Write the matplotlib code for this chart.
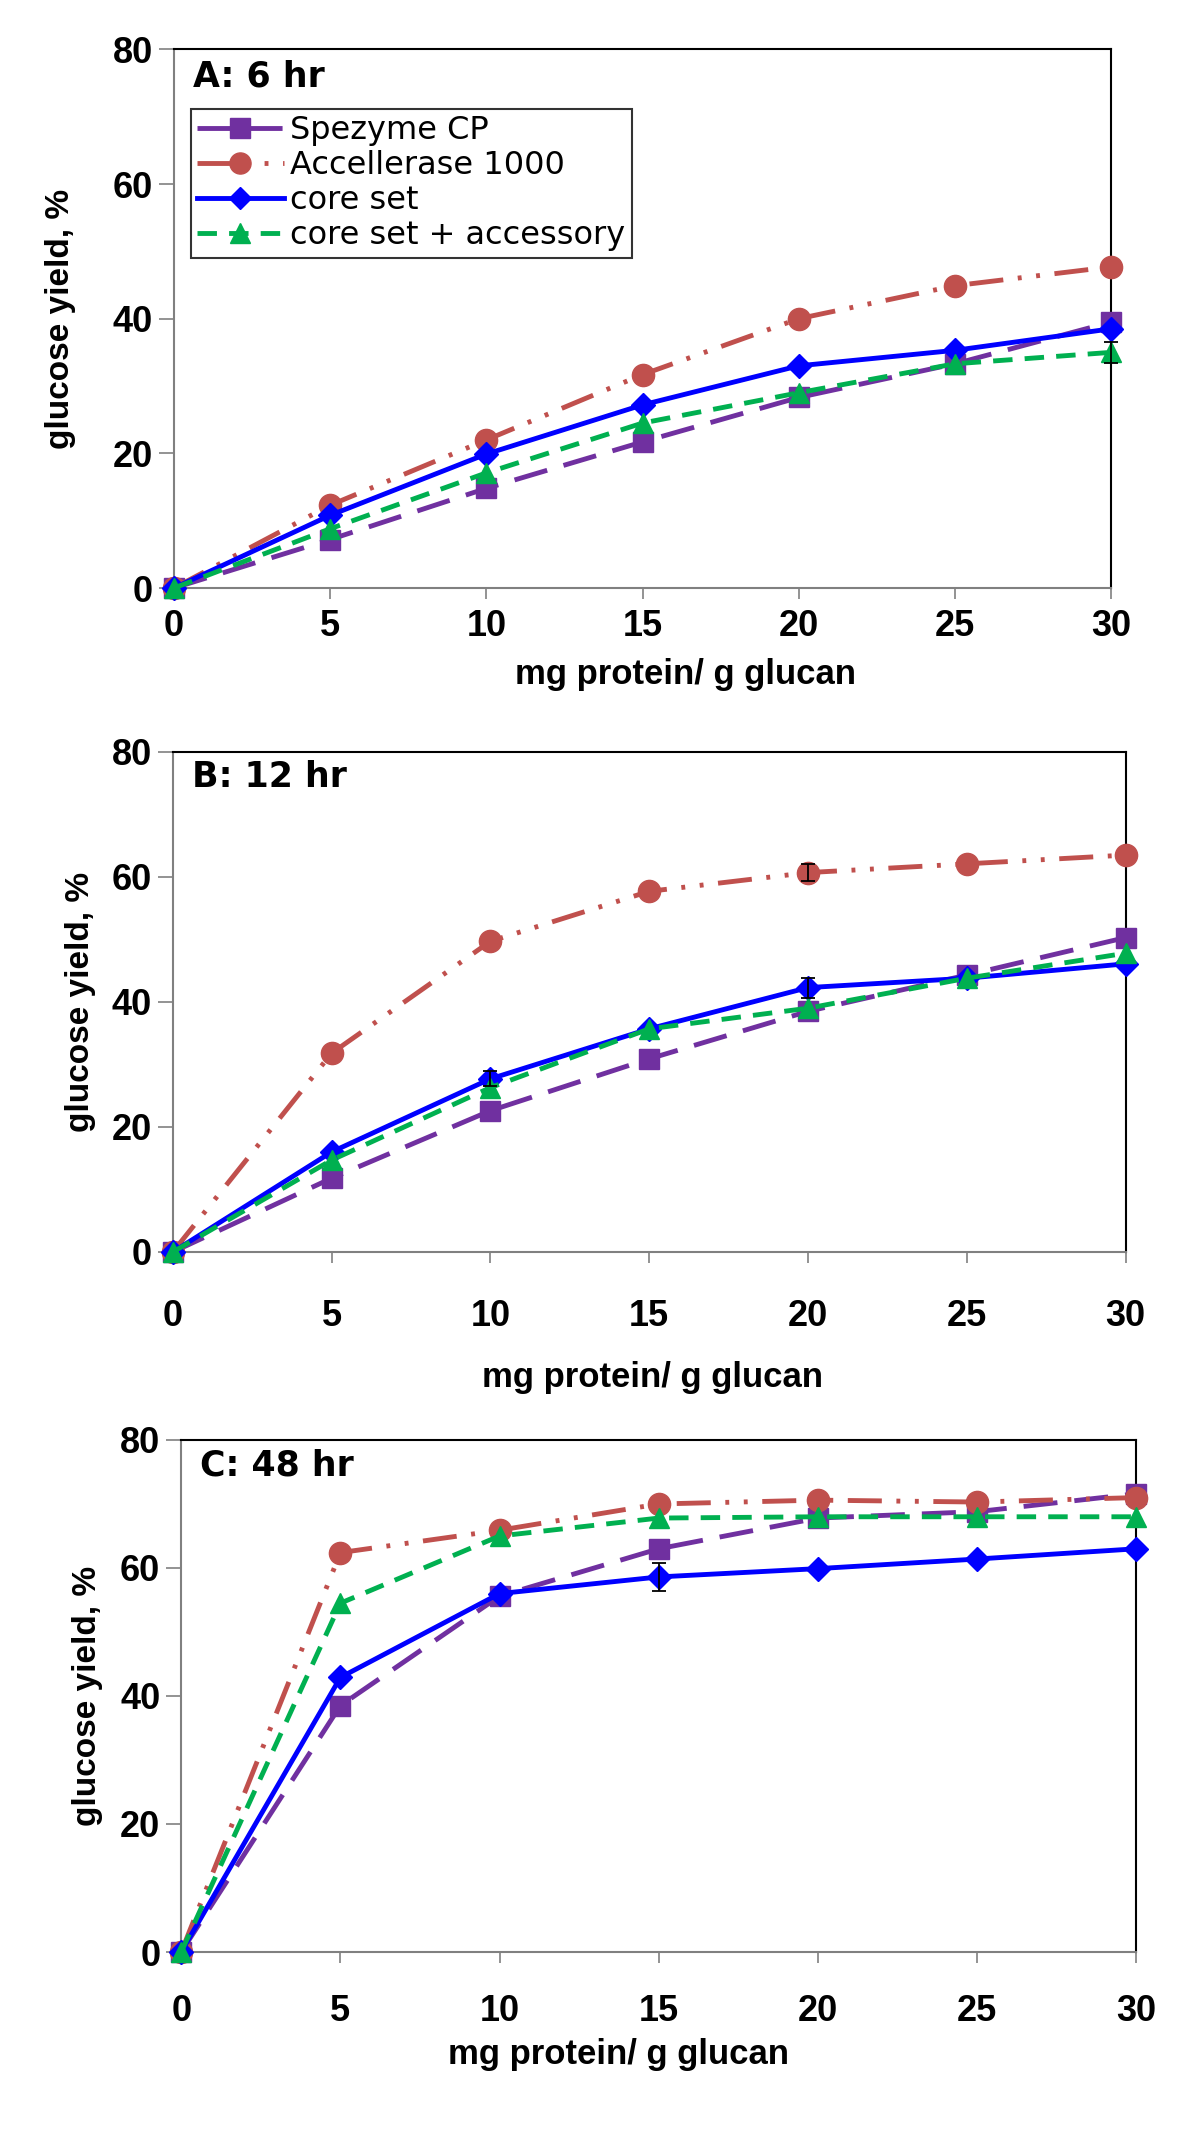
import numpy as np
import matplotlib as mpl
mpl.use('Agg')
import matplotlib.pyplot as plt

plt.rcParams['font.family'] = ['Liberation Sans', 'DejaVu Sans']
plt.rcParams['font.weight'] = 'bold'

# protein loading, mg protein / g glucan
loading = [0, 5, 10, 15, 20, 25, 30]
series_names = ['Spezyme CP', 'Accellerase 1000', 'core set', 'core set + accessory']

# glucose yield (%) per panel
spezyme_6h = [0, 7.2, 14.8, 21.7, 28.3, 33.3, 39.5]
accell_6h = [0, 12.3, 22.0, 31.7, 40.0, 44.9, 47.7]
core_6h = [0, 10.8, 19.9, 27.2, 33.0, 35.3, 38.5]
coreacc_6h = [0, 8.8, 17.1, 24.5, 29.0, 33.3, 35.0]

spezyme_12h = [0, 11.8, 22.6, 30.9, 38.5, 44.3, 50.3]
accell_12h = [0, 31.8, 49.7, 57.7, 60.7, 62.1, 63.5]
core_12h = [0, 16.0, 27.7, 35.7, 42.3, 43.8, 46.1]
coreacc_12h = [0, 14.7, 26.3, 35.7, 39.0, 43.8, 47.8]

spezyme_48h = [0, 38.5, 55.6, 63.0, 67.8, 68.8, 71.6]
accell_48h = [0, 62.4, 65.9, 70.0, 70.6, 70.3, 71.0]
core_48h = [0, 42.9, 56.0, 58.6, 59.9, 61.4, 63.0]
coreacc_48h = [0, 54.5, 65.0, 67.8, 68.0, 68.0, 68.0]

# error bars (only the visible ones, series index -> list)
err_6h = {3: [0, 0, 0, 0, 0, 0, 1.6]}
err_12h = {1: [0, 0, 0, 0, 1.4, 0, 0], 2: [0, 0, 1.2, 0, 1.6, 0, 0]}
err_48h = {2: [0, 0, 0, 2.2, 0, 0, 0]}

panel_titles = ['A: 6 hr', 'B: 12 hr', 'C: 48 hr']

colors = ['#7030A0', '#C0504D', '#0000FF', '#00B050']
markers = ['s', 'o', 'D', '^']
msizes = [15, 16, 12, 15]
dashes = [(7, 3.5), (7, 3, 0.8, 3, 0.8, 3), None, (4, 2.5)]

panels = [
    ([spezyme_6h, accell_6h, core_6h, coreacc_6h], err_6h),
    ([spezyme_12h, accell_12h, core_12h, coreacc_12h], err_12h),
    ([spezyme_48h, accell_48h, core_48h, coreacc_48h], err_48h),
]

# axes rectangles (fig fraction) and label placement
rects = [[0.145, 0.726, 0.781, 0.251],
         [0.144, 0.4166, 0.794, 0.233],
         [0.151, 0.0904, 0.796, 0.2386]]
ylab_x = [-0.105, -0.081, -0.082]
xlab_pos = [(0.546, -0.13), (0.503, -0.218), (0.458, -0.168)]
xpad = [7, 26, 22]

fig = plt.figure(figsize=(12, 21.46), dpi=100)

for i, (data, errs) in enumerate(panels):
    ax = fig.add_axes(rects[i])
    for j, ys in enumerate(data):
        kw = dict(color=colors[j], marker=markers[j], markersize=msizes[j],
                  lw=3.5, label=series_names[j], zorder=3 + j)
        if dashes[j] is not None:
            kw['dashes'] = dashes[j]
        ax.plot(loading, ys, **kw)
        if j in errs:
            e = np.array(errs[j])
            k = e > 0
            ax.errorbar(np.array(loading)[k], np.array(ys)[k], yerr=e[k],
                        fmt='none', ecolor='black', elinewidth=1.3,
                        capsize=5, capthick=1.3, zorder=10)
    ax.set_xlim(0, 30)
    ax.set_ylim(0, 80)
    ax.set_xticks(loading)
    ax.set_yticks([0, 20, 40, 60, 80])
    for s in ['left', 'bottom']:
        ax.spines[s].set_color('#808080')
        ax.spines[s].set_linewidth(1.5)
    for s in ['top', 'right']:
        ax.spines[s].set_color('black')
        ax.spines[s].set_linewidth(1.5)
    ax.tick_params(axis='both', direction='out', width=1.2,
                   color='#808080', labelsize=26)
    ax.tick_params(axis='x', pad=xpad[i], length=8)
    ax.tick_params(axis='y', pad=4, length=11)
    for lab in ax.get_xticklabels() + ax.get_yticklabels():
        lab.set_fontweight('bold')
    ax.set_ylabel('glucose yield, %', fontsize=24, fontweight='bold')
    ax.yaxis.set_label_coords(ylab_x[i], 0.5)
    ax.set_xlabel('mg protein/ g glucan', fontsize=25, fontweight='bold')
    ax.xaxis.set_label_coords(*xlab_pos[i])
    ax.text(0.02, 0.95, panel_titles[i], transform=ax.transAxes,
            fontsize=25, fontweight='bold', va='center', ha='left',
            family='DejaVu Sans')
    for c in ax.collections + ax.lines:
        c.set_clip_on(False)
    if i == 0:
        leg = ax.legend(loc='upper left', bbox_to_anchor=(0.018, 0.89),
                        prop={'family': 'DejaVu Sans', 'size': 23,
                              'weight': 'normal'},
                        frameon=True, fancybox=False, markerscale=0.95,
                        handlelength=2.7, handletextpad=0.2,
                        labelspacing=0.13, borderpad=0.2, borderaxespad=0)
        leg.get_frame().set_edgecolor('black')
        leg.get_frame().set_linewidth(1.5)

fig.savefig('out.png', dpi=100)
